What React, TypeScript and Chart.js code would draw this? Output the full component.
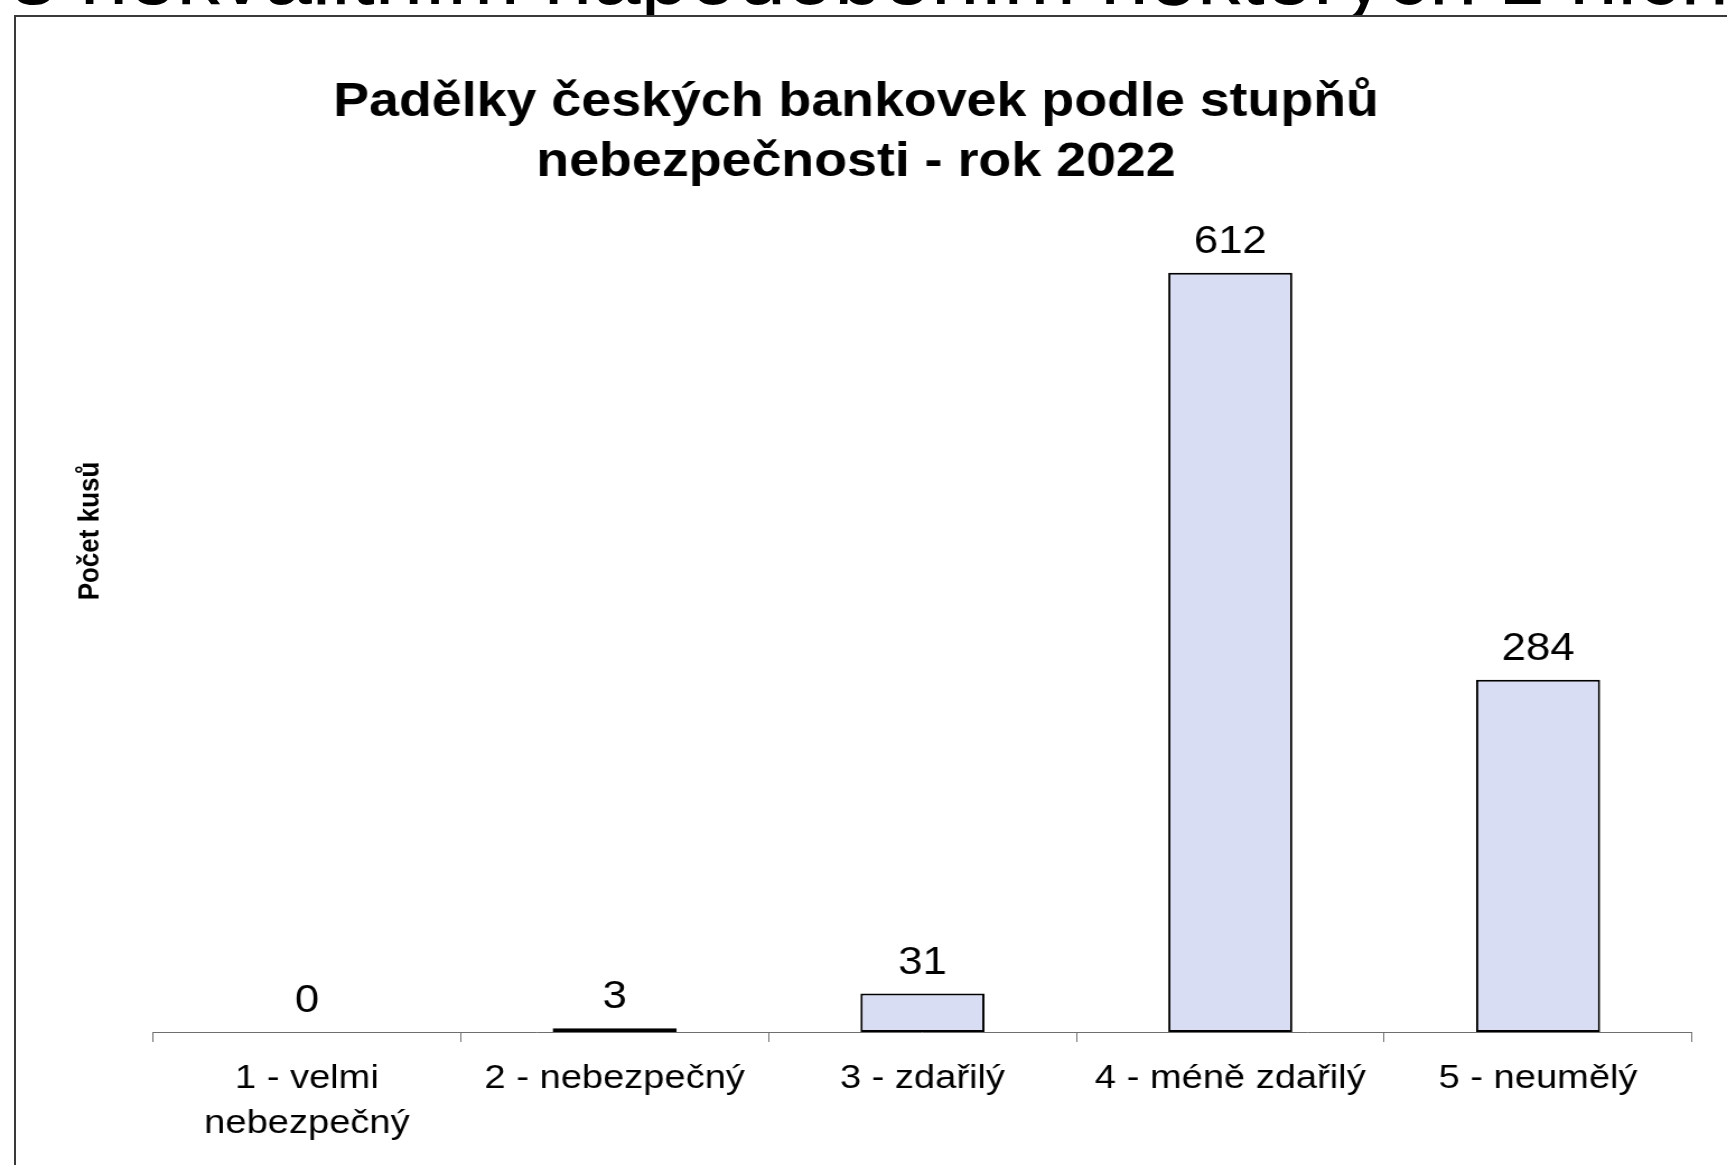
import React, { useEffect, useRef } from 'react';
import { Chart, registerables } from 'chart.js';

Chart.register(...registerables);

// ---- data ----
const slideText = 's nekvalitním napodobením některých z nich.';
const titleLines = ['Padělky českých bankovek podle stupňů', 'nebezpečnosti - rok 2022'];
const yAxisTitle = 'Počet kusů';
const categories: (string | string[])[] = [
  ['1 - velmi', 'nebezpečný'],
  '2 - nebezpečný',
  '3 - zdařilý',
  '4 - méně zdařilý',
  '5 - neumělý',
];
const counts = [0, 3, 31, 612, 284];
const yMin = 0;
const yMax = 700;

// ---- layout ----
const W = 1727;
const H = 1165;
const SX = 1.12; // horizontal stretch of the pasted chart picture
const CW = Math.round(W / SX);
const FONT = '"Liberation Sans", Arial, Helvetica, sans-serif';

const X_LEFT = 153 / SX;
const X_RIGHT = 1692 / SX;
const PLOT_BOTTOM = 1032;
const PLOT_TOP = PLOT_BOTTOM - (yMax - yMin) * 1.2405;

const overlayPlugin = {
  id: 'overlay',
  afterDatasetsDraw(chart: any) {
    const ctx = chart.ctx;
    const meta = chart.getDatasetMeta(0);
    ctx.save();
    ctx.fillStyle = '#000';
    ctx.font = `39px ${FONT}`;
    ctx.textAlign = 'center';
    ctx.textBaseline = 'alphabetic';
    meta.data.forEach((bar: any, i: number) => {
      ctx.fillText(String(counts[i]), bar.x, bar.y - 20);
    });
    ctx.restore();
  },
  afterDraw(chart: any) {
    const ctx = chart.ctx;
    ctx.save();
    ctx.fillStyle = '#000';
    ctx.font = `bold 48px ${FONT}`;
    ctx.textAlign = 'center';
    ctx.textBaseline = 'alphabetic';
    ctx.fillText(titleLines[0], 856 / SX, 116);
    ctx.fillText(titleLines[1], 856 / SX, 176);
    ctx.translate(91 / SX, 531);
    ctx.rotate(-Math.PI / 2);
    ctx.font = `bold 26px ${FONT}`;
    ctx.textBaseline = 'middle';
    ctx.fillText(yAxisTitle, 0, 0);
    ctx.restore();
  },
};

export default function App() {
  const ref = useRef<HTMLCanvasElement | null>(null);

  useEffect(() => {
    if (!ref.current) return;
    const chart = new Chart(ref.current, {
      type: 'bar',
      data: {
        labels: categories,
        datasets: [
          {
            data: counts,
            backgroundColor: '#d9ddf3',
            borderColor: '#000000',
            borderWidth: 2,
            borderSkipped: false,
            barPercentage: 0.403,
            categoryPercentage: 1,
          },
        ],
      },
      options: {
        responsive: false,
        animation: false,
        devicePixelRatio: 1,
        layout: {
          padding: { left: X_LEFT, right: CW - X_RIGHT, top: PLOT_TOP, bottom: 0 },
        },
        plugins: {
          legend: { display: false },
          title: { display: false },
          tooltip: { enabled: false },
        },
        scales: {
          x: {
            type: 'category',
            offset: true,
            grid: {
              display: true,
              offset: true,
              drawOnChartArea: false,
              drawTicks: true,
              tickLength: 10,
              color: '#6e6e6e',
              lineWidth: 1,
            },
            border: { display: true, color: '#6e6e6e', width: 1 },
            ticks: {
              color: '#000',
              font: { family: FONT, size: 34, lineHeight: 1.3 },
              padding: 15,
              maxRotation: 0,
              minRotation: 0,
              autoSkip: false,
            },
            afterFit: (s: any) => {
              s.height = H - PLOT_BOTTOM;
            },
          },
          y: {
            display: false,
            min: yMin,
            max: yMax,
          },
        },
      },
      plugins: [overlayPlugin],
    });
    return () => chart.destroy();
  }, []);

  return (
    <div
      style={{
        position: 'fixed',
        left: 0,
        top: 0,
        width: W,
        height: H,
        overflow: 'hidden',
        background: '#fff',
      }}
    >
      <div
        style={{
          position: 'absolute',
          left: 12,
          top: -70,
          fontFamily: FONT,
          fontSize: 87,
          lineHeight: '87px',
          whiteSpace: 'nowrap',
          color: '#000',
        }}
      >
        {slideText}
      </div>
      <div
        style={{
          position: 'absolute',
          left: 14,
          top: 15,
          width: 1800,
          height: 1300,
          border: '2px solid #3a3a3a',
          background: '#fff',
        }}
      />
      <canvas
        ref={ref}
        width={CW}
        height={H}
        style={{ position: 'absolute', left: 0, top: 0, width: W + 'px', height: H + 'px' }}
      />
    </div>
  );
}
